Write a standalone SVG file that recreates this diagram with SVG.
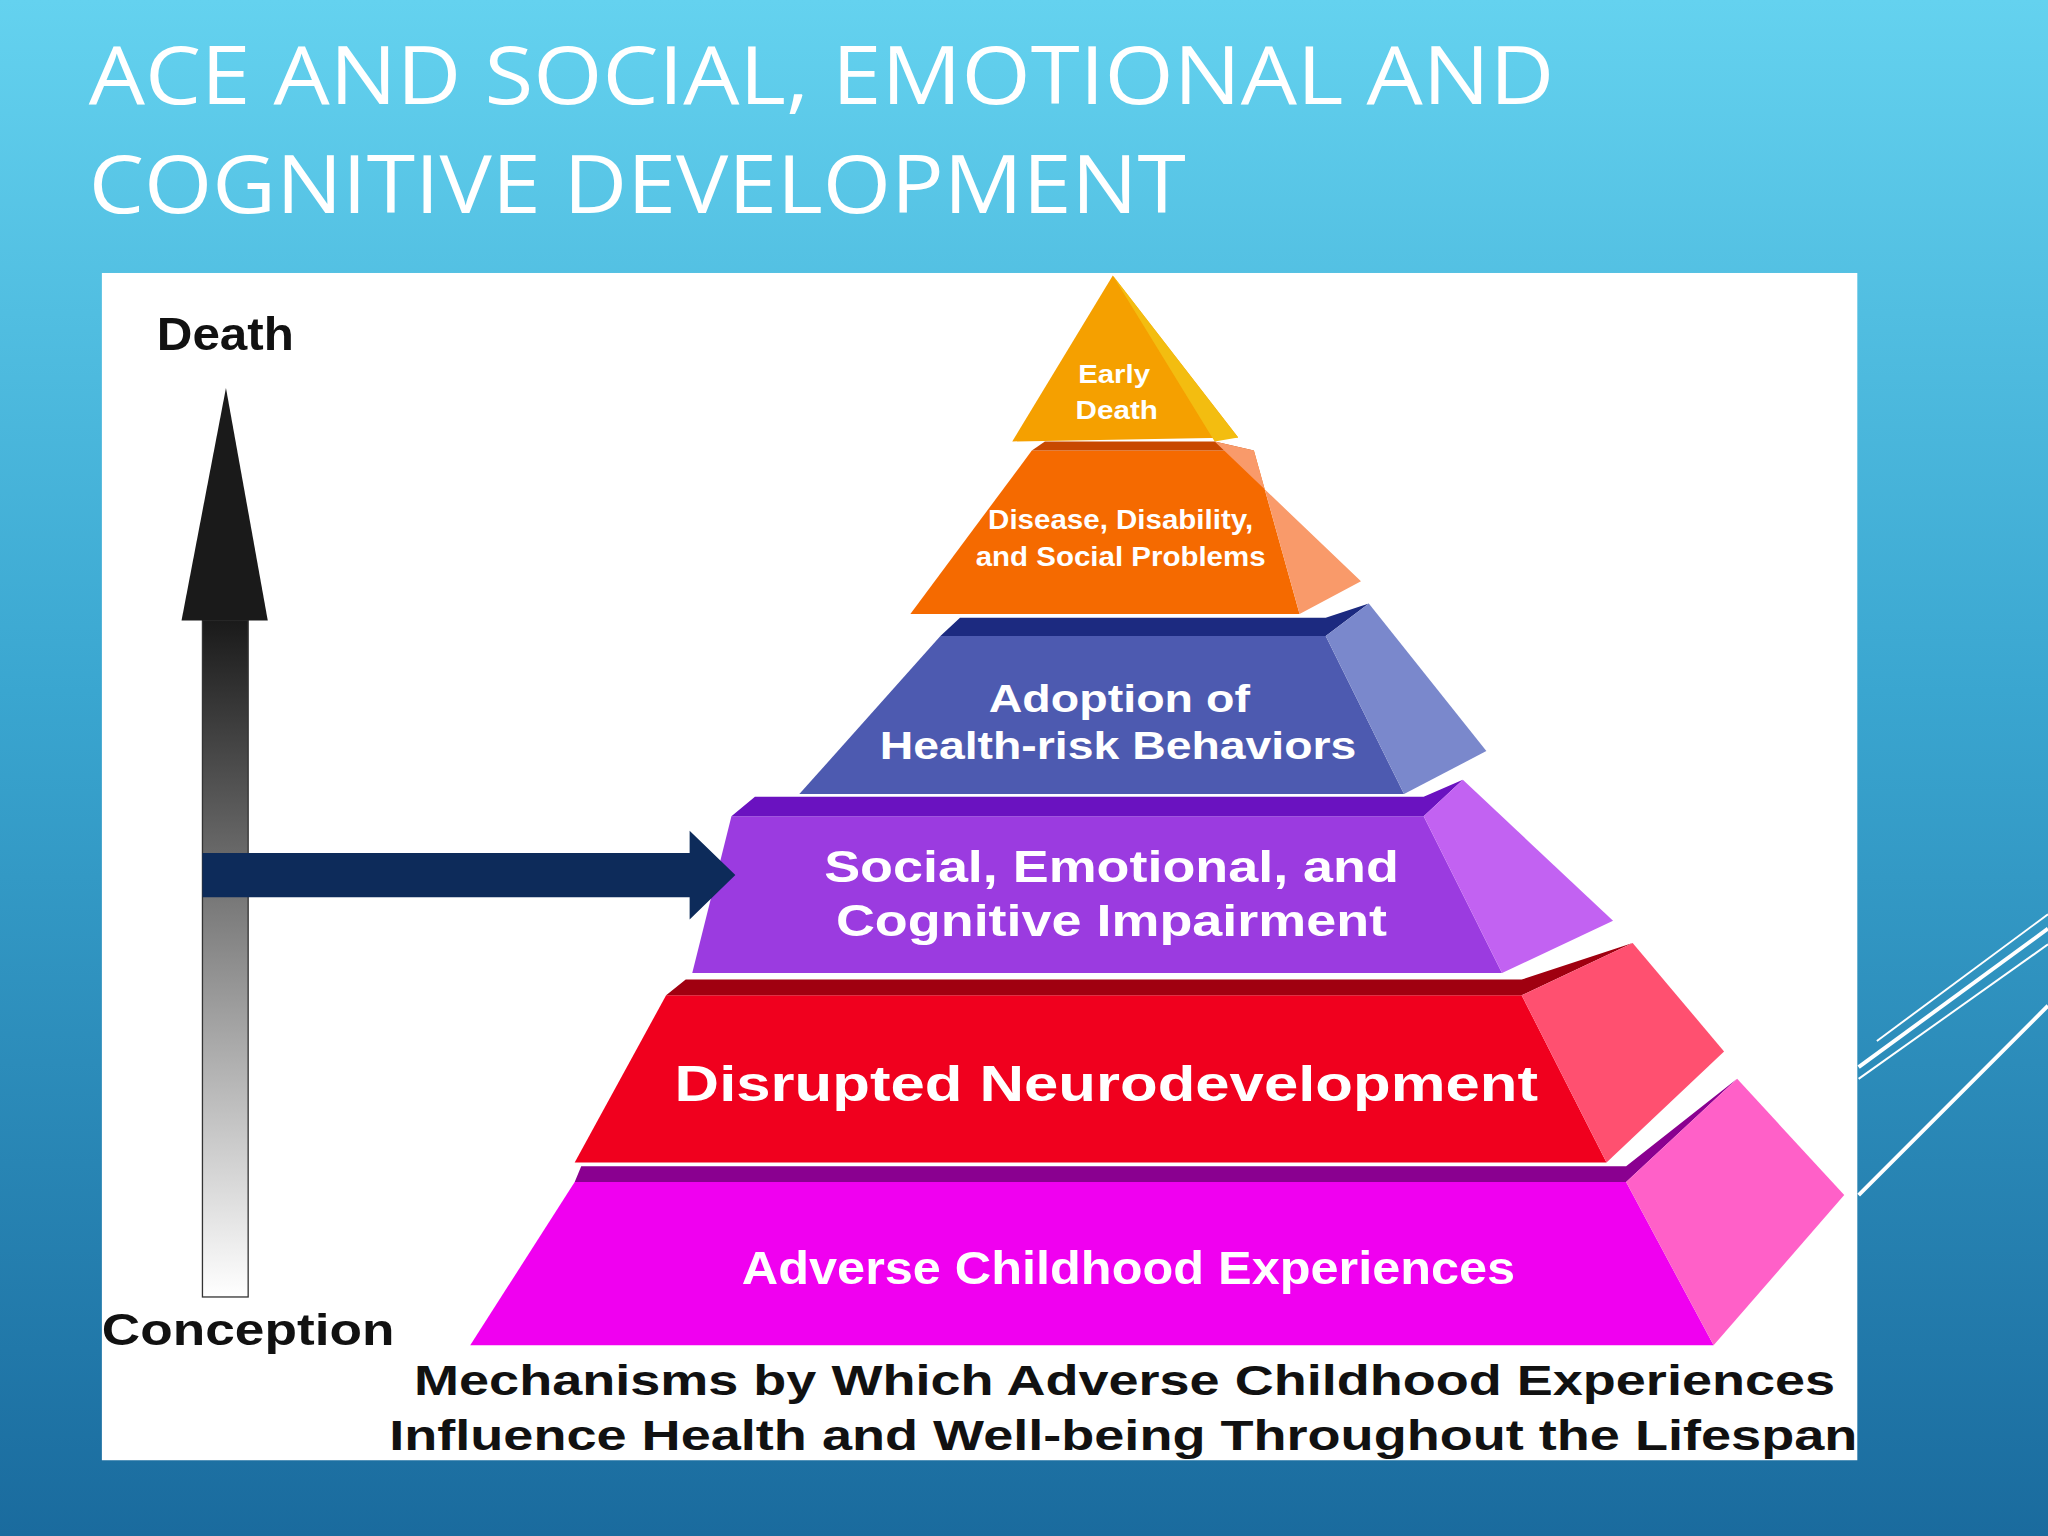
<svg xmlns="http://www.w3.org/2000/svg" width="2048" height="1536" viewBox="0 0 2048 1536">
<defs>
<linearGradient id="bg" x1="0" y1="0" x2="0" y2="1"><stop offset="0" stop-color="#64d2ef"/><stop offset="0.45" stop-color="#3aa6d0"/><stop offset="1" stop-color="#1a6b9e"/></linearGradient>
<linearGradient id="sh" x1="0" y1="0" x2="0" y2="1"><stop offset="0" stop-color="#1a1a1a"/><stop offset="1" stop-color="#ffffff"/></linearGradient>
<style>
.w{fill:#fff;font-family:"Liberation Sans",Arial,sans-serif;font-weight:bold;text-anchor:middle}
.k{fill:#111;font-family:"Liberation Sans",Arial,sans-serif;font-weight:bold}
.dl{stroke:#fff;fill:none}
</style>
</defs>
<rect width="2048" height="1536" fill="url(#bg)"/>
<g transform="scale(1.30612)">
<g id="title" fill="#fff" font-family="'Open Sans','Noto Sans',sans-serif" font-size="62">
<text x="68" y="80" textLength="1122" lengthAdjust="spacingAndGlyphs">ACE AND SOCIAL, EMOTIONAL AND</text>
<text x="68" y="163" textLength="840" lengthAdjust="spacingAndGlyphs">COGNITIVE DEVELOPMENT</text>
</g>
<g id="deco" class="dl">
<line x1="1437" y1="797" x2="1568" y2="700" stroke-width="1.5"/>
<line x1="1423" y1="817" x2="1568" y2="711" stroke-width="3"/>
<line x1="1423" y1="826" x2="1568" y2="723" stroke-width="1.5"/>
<line x1="1423" y1="915" x2="1568" y2="770" stroke-width="3"/>
</g>
<rect x="78" y="209" width="1344" height="909" fill="#fff"/>
<g id="timeline">
<rect x="155" y="475" width="35" height="518" fill="url(#sh)" stroke="#333" stroke-width="1"/>
<polygon points="173,297 205,475 139,475" fill="#1a1a1a"/>
<text class="k" x="120" y="268" font-size="36" textLength="105" lengthAdjust="spacingAndGlyphs">Death</text>
<text class="k" x="78" y="1030" font-size="34" textLength="224" lengthAdjust="spacingAndGlyphs">Conception</text>
</g>
<g id="n1">
<polygon points="852,211 775,338 948,335" fill="#f5a000"/>
<polygon points="852,211 948,335 930,338" fill="#f3bd10"/>
<text class="w" x="853" y="293" font-size="20" textLength="55" lengthAdjust="spacingAndGlyphs">Early</text>
<text class="w" x="855" y="321" font-size="20" textLength="63" lengthAdjust="spacingAndGlyphs">Death</text>
</g>
<g id="n2">
<polygon points="790,345 960,345 995,470 697,470" fill="#f56a00"/>
<polygon points="790,345 800,338 930,338 960,345" fill="#c84800"/>
<polygon points="930,338 1042,445 995,470 960,345" fill="#f99a6a"/>
<text class="w" x="858" y="405" font-size="21" textLength="203" lengthAdjust="spacingAndGlyphs">Disease, Disability,</text>
<text class="w" x="858" y="433" font-size="21" textLength="222" lengthAdjust="spacingAndGlyphs">and Social Problems</text>
</g>
<g id="n3">
<polygon points="720,487 1015,487 1075,608 612,608" fill="#4d5ab0"/>
<polygon points="720,487 735,473 1015,473 1048,462 1015,487" fill="#1c2a80"/>
<polygon points="1048,462 1138,575 1075,608 1015,487" fill="#7a88cc"/>
<text class="w" x="857" y="545" font-size="30" textLength="200" lengthAdjust="spacingAndGlyphs">Adoption of</text>
<text class="w" x="856" y="581" font-size="30" textLength="365" lengthAdjust="spacingAndGlyphs">Health-risk Behaviors</text>
</g>
<g id="n4">
<polygon points="560,625 1090,625 1150,745 530,745" fill="#9b3be0"/>
<polygon points="560,625 578,610 1090,610 1120,597 1090,625" fill="#6a12c0"/>
<polygon points="1120,597 1235,705 1150,745 1090,625" fill="#c262f2"/>
<text class="w" x="851" y="675" font-size="34" textLength="440" lengthAdjust="spacingAndGlyphs">Social, Emotional, and</text>
<text class="w" x="851" y="717" font-size="34" textLength="422" lengthAdjust="spacingAndGlyphs">Cognitive Impairment</text>
</g>
<g id="n5">
<polygon points="510,762 1165,762 1230,890 440,890" fill="#f0001e"/>
<polygon points="510,762 525,750 1165,750 1250,722 1165,762" fill="#a00010"/>
<polygon points="1250,722 1320,805 1230,890 1165,762" fill="#ff5070"/>
<text class="w" x="847" y="843" font-size="38" textLength="661" lengthAdjust="spacingAndGlyphs">Disrupted Neurodevelopment</text>
</g>
<g id="n6">
<polygon points="440,905 1245,905 1312,1030 360,1030" fill="#f000f0"/>
<polygon points="440,905 445,893 1245,893 1330,826 1245,905" fill="#8a0090"/>
<polygon points="1330,826 1412,915 1312,1030 1245,905" fill="#ff60c8"/>
<text class="w" x="864" y="983" font-size="36" textLength="592" lengthAdjust="spacingAndGlyphs">Adverse Childhood Experiences</text>
</g>
<g id="connectors">
<polygon points="155,653 528,653 528,636 563,670 528,704 528,687 155,687" fill="#0d2b5a"/>
</g>
<g id="caption">
<text class="k" x="317" y="1068" font-size="32" textLength="1088" lengthAdjust="spacingAndGlyphs">Mechanisms by Which Adverse Childhood Experiences</text>
<text class="k" x="298" y="1110" font-size="32" textLength="1124" lengthAdjust="spacingAndGlyphs">Influence Health and Well-being Throughout the Lifespan</text>
</g>
</g>
</svg>
